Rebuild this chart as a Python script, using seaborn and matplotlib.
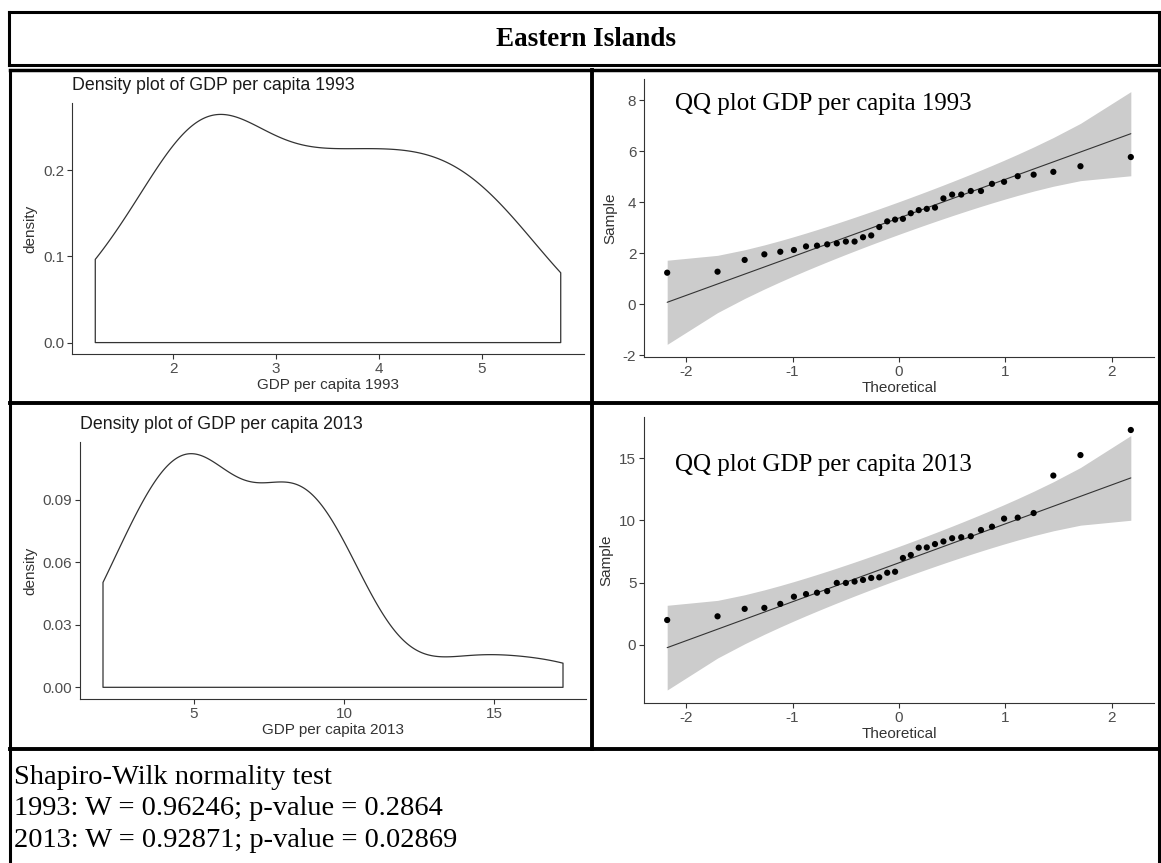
import numpy as np
import pandas as pd
import matplotlib
matplotlib.use("Agg")
import matplotlib.pyplot as plt
from matplotlib.lines import Line2D
import seaborn as sns
from statistics import NormalDist

# ---------------- data ----------------
gdp_1993 = [1.24, 1.28, 1.74, 1.96, 2.06, 2.13, 2.27, 2.30, 2.35, 2.39,
            2.46, 2.46, 2.63, 2.70, 3.03, 3.25, 3.32, 3.35, 3.57, 3.69,
            3.74, 3.79, 4.15, 4.30, 4.30, 4.44, 4.44, 4.72, 4.80, 5.02,
            5.08, 5.19, 5.41, 5.77]
gdp_2013 = [1.98, 2.28, 2.88, 2.96, 3.28, 3.86, 4.07, 4.18, 4.31, 4.97,
            4.97, 5.08, 5.21, 5.37, 5.42, 5.79, 5.87, 6.98, 7.22, 7.81,
            7.83, 8.10, 8.31, 8.57, 8.65, 8.73, 9.23, 9.50, 10.15, 10.23,
            10.60, 13.62, 15.27, 17.29]
main_title = "Eastern Islands"
density_titles = ["Density plot of GDP per capita 1993", "Density plot of GDP per capita 2013"]
density_xlabels = ["GDP per capita 1993", "GDP per capita 2013"]
qq_titles = ["QQ plot GDP per capita 1993", "QQ plot GDP per capita 2013"]
density_yticks = [[0.0, 0.1, 0.2], [0.00, 0.03, 0.06, 0.09]]
density_ytick_fmt = ["{:.1f}", "{:.2f}"]
density_xticks = [[2, 3, 4, 5], [5, 10, 15]]
qq_yticks = [[-2, 0, 2, 4, 6, 8], [0, 5, 10, 15]]
qq_xticks = [-2, -1, 0, 1, 2]
sw_lines = ["Shapiro-Wilk normality test",
            "1993: W = 0.96246; p-value = 0.2864",
            "2013: W = 0.92871; p-value = 0.02869"]

# ---------------- figure ----------------
sns.set_theme(style="ticks")
plt.rcParams["font.family"] = ["Liberation Sans", "DejaVu Sans"]
plt.rcParams["axes.unicode_minus"] = False
W, H = 1161, 863
fig = plt.figure(figsize=(W / 100, H / 100), dpi=100)
fig.patch.set_facecolor("white")

SERIF = ["Liberation Serif", "DejaVu Serif"]
AX_COL = "#333333"
TICK_COL = "#4d4d4d"


def place(x0, y0, x1, y1):
    return fig.add_axes([x0 / W, 1 - y1 / H, (x1 - x0) / W, (y1 - y0) / H])


def style(ax):
    sns.despine(ax=ax)
    for s in ("left", "bottom"):
        ax.spines[s].set_color(AX_COL)
        ax.spines[s].set_linewidth(0.8)
    ax.tick_params(direction="out", length=3.5, width=0.8, color=AX_COL,
                   labelsize=11, labelcolor=TICK_COL, pad=2)
    ax.set_facecolor("white")


def fline(x0, y0, x1, y1, lw):
    fig.add_artist(Line2D([x0 / W, x1 / W], [1 - y0 / H, 1 - y1 / H],
                          transform=fig.transFigure, color="black", lw=lw,
                          solid_capstyle="projecting"))


nd = NormalDist()


def density_panel(ax, data, i):
    d = np.asarray(data, float)
    n = len(d)
    sd = d.std(ddof=1)
    q1, q3 = np.quantile(d, [0.25, 0.75])
    bw = 0.9 * min(sd, (q3 - q1) / 1.34) * n ** -0.2  # bw.nrd0
    sns.kdeplot(x=d, ax=ax, cut=0, bw_method=bw / sd, gridsize=512,
                fill=True, color="#333333", facecolor="none",
                edgecolor="#333333", linewidth=0.9, alpha=1)
    ymax = ax.collections[0].get_paths()[0].vertices[:, 1].max()
    ax.set_ylim(-0.05 * ymax, 1.05 * ymax)
    rng = d.max() - d.min()
    ax.set_xlim(d.min() - 0.05 * rng, d.max() + 0.05 * rng)
    ax.set_xticks(density_xticks[i])
    ax.set_yticks(density_yticks[i])
    ax.set_yticklabels([density_ytick_fmt[i].format(v) for v in density_yticks[i]])
    ax.set_xlabel(density_xlabels[i], fontsize=11, color=AX_COL, labelpad=2)
    ax.set_ylabel("density", fontsize=11, color=AX_COL, labelpad=4)
    style(ax)


def qq_panel(ax, data, i):
    s = np.sort(np.asarray(data, float))
    n = len(s)
    P = (np.arange(1, n + 1) - 0.5) / n
    z = np.array([nd.inv_cdf(p) for p in P])
    q1, q3 = np.quantile(s, [0.25, 0.75])
    slope = (q3 - q1) / (nd.inv_cdf(0.75) - nd.inv_cdf(0.25))
    inter = q1 - slope * nd.inv_cdf(0.25)
    fit = inter + slope * z
    dens = np.array([nd.pdf(v) for v in z])
    se = slope / dens * np.sqrt(P * (1 - P) / n)
    lo, hi = fit - 1.96 * se, fit + 1.96 * se
    ax.fill_between(z, lo, hi, color="#cccccc", lw=0, zorder=1)
    sns.lineplot(x=z, y=fit, ax=ax, color="#333333", lw=0.8, zorder=2)
    sns.scatterplot(x=z, y=s, ax=ax, color="black", s=20, edgecolor="none", zorder=3)
    zr = z.max() - z.min()
    ax.set_xlim(z.min() - 0.05 * zr, z.max() + 0.05 * zr)
    ymin = min(lo.min(), s.min())
    ymax = max(hi.max(), s.max())
    yr = ymax - ymin
    ax.set_ylim(ymin - 0.05 * yr, ymax + 0.05 * yr)
    ax.set_xticks(qq_xticks)
    ax.set_yticks(qq_yticks[i])
    ax.set_xlabel("Theoretical", fontsize=11, color=AX_COL, labelpad=2)
    ax.set_ylabel("Sample", fontsize=11, color=AX_COL, labelpad=4)
    style(ax)


ax1 = place(72, 103, 584, 354)
density_panel(ax1, gdp_1993, 0)
ax2 = place(644, 79, 1154, 357)
qq_panel(ax2, gdp_1993, 0)
ax3 = place(80, 442, 586, 699)
density_panel(ax3, gdp_2013, 1)
ax4 = place(644, 417, 1154, 703)
qq_panel(ax4, gdp_2013, 1)

ax2.text(0.06, 0.91, qq_titles[0], transform=ax2.transAxes, fontsize=18,
         family=SERIF, va="center", ha="left", color="black")
ax4.text(0.06, 0.832, qq_titles[1], transform=ax4.transAxes, fontsize=18,
         family=SERIF, va="center", ha="left", color="black")

fig.text(72 / W, 1 - 86 / H, density_titles[0], fontsize=12.8, color="#1a1a1a",
         ha="left", va="center")
fig.text(80 / W, 1 - 424 / H, density_titles[1], fontsize=12.8, color="#1a1a1a",
         ha="left", va="center")

# main title
fig.text(586 / W, 1 - 39 / H, main_title, fontsize=19.5, family=SERIF,
         weight="bold", ha="center", va="center", color="black")

# Shapiro-Wilk text block
for k, line in enumerate(sw_lines):
    fig.text(14 / W, 1 - (777 + 31.5 * k) / H, line, fontsize=20.5, family=SERIF,
             ha="left", va="center", color="black")

# ---------------- frame lines ----------------
# title box
fline(9, 12, 1159, 12, 2.2)
fline(9, 65, 1159, 65, 2.2)
fline(9, 12, 9, 65, 2.2)
fline(1159, 12, 1159, 65, 2.2)
# panel grid
fline(10, 70, 1159, 70, 2.5)
fline(10, 403, 1159, 403, 2.8)
fline(10, 749, 1159, 749, 2.8)
fline(592, 70, 592, 749, 2.8)
fline(10, 70, 10, 863, 2.2)
fline(1159, 70, 1159, 863, 2.2)

fig.savefig("out.png", dpi=100, facecolor="white")
